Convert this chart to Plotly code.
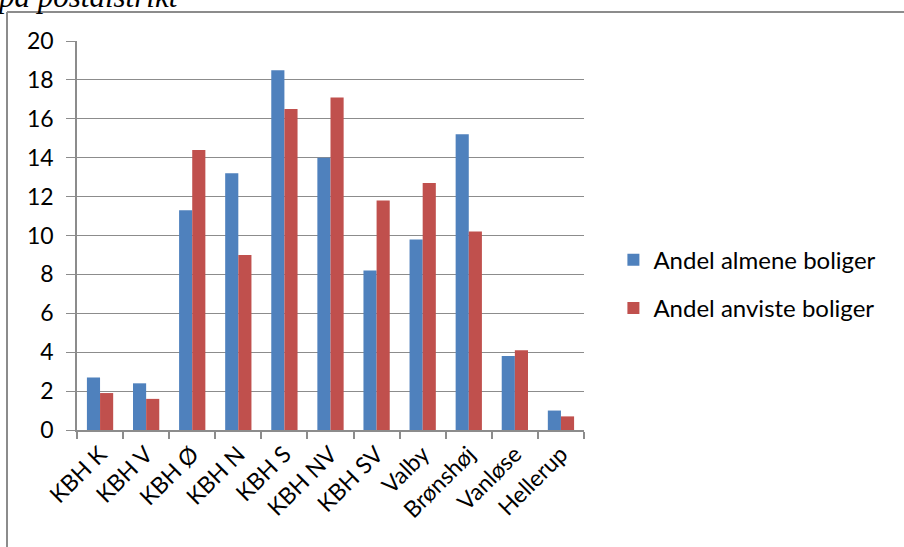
import plotly.graph_objects as go

categories = ["KBH K", "KBH V", "KBH Ø", "KBH N", "KBH S", "KBH NV", "KBH SV",
              "Valby", "Brønshøj", "Vanløse", "Hellerup"]
almene = [2.7, 2.4, 11.3, 13.2, 18.5, 14.0, 8.2, 9.8, 15.2, 3.8, 1.0]
anviste = [1.9, 1.6, 14.4, 9.0, 16.5, 17.1, 11.8, 12.7, 10.2, 4.1, 0.7]
y_ticks = [0, 2, 4, 6, 8, 10, 12, 14, 16, 18, 20]

FONT = "Lato"
GRID = "#8c8c8c"
FS = 23

fig = go.Figure()
fig.add_trace(go.Bar(x=categories, y=almene, name="Andel almene boliger",
                     marker=dict(color="#4F81BD", line=dict(width=0)),
                     legendgroup="a"))
fig.add_trace(go.Bar(x=categories, y=anviste, name="Andel anviste boliger",
                     marker=dict(color="#C0504D", line=dict(width=0)),
                     legendgroup="b"))

bx = (7 - 77) / 507
by = (430 - 12) / 389

fig.update_layout(
    width=904, height=547,
    margin=dict(l=77, r=320, t=41, b=117),
    paper_bgcolor="white", plot_bgcolor="white",
    barmode="group", bargap=0.43, bargroupgap=0,
    font=dict(family=FONT, size=FS, color="black"),
    showlegend=True,
    legend=dict(x=1.058, y=0.375, xanchor="left", yanchor="middle",
                font=dict(family=FONT, size=24, color="black"),
                traceorder="grouped", tracegroupgap=14,
                bgcolor="rgba(0,0,0,0)", itemwidth=30),
    xaxis=dict(type="category", showgrid=False, showline=True, linecolor=GRID,
               linewidth=1.5, ticks="outside", tickson="boundaries", ticklen=7,
               tickcolor=GRID, tickwidth=1.5, tickangle=-45,
               tickfont=dict(family=FONT, size=FS, color="black")),
    yaxis=dict(range=[0, 20], tickvals=y_ticks, showgrid=True, gridcolor=GRID,
               gridwidth=1, showline=True, linecolor=GRID, linewidth=1.5,
               ticks="outside", ticklen=9, tickcolor=GRID, tickwidth=1,
               zeroline=False, ticklabelstandoff=8,
               tickfont=dict(family=FONT, size=FS, color="black")),
    shapes=[
        dict(type="line", xref="paper", yref="paper", x0=bx, x1=bx, y0=-0.6, y1=by,
             line=dict(color="#8c8c8c", width=2), layer="below"),
        dict(type="line", xref="paper", yref="paper", x0=bx, x1=2.5, y0=by, y1=by,
             line=dict(color="#8c8c8c", width=2), layer="below"),
    ],
    annotations=[dict(text="<i>på postdistrikt</i>", xref="paper", yref="paper",
                      x=(-5 - 77) / 507, y=(430 - 16) / 389, xanchor="left",
                      yanchor="bottom", showarrow=False,
                      font=dict(family="Liberation Serif", size=31, color="black"))],
)

fig.write_html("out.html")
